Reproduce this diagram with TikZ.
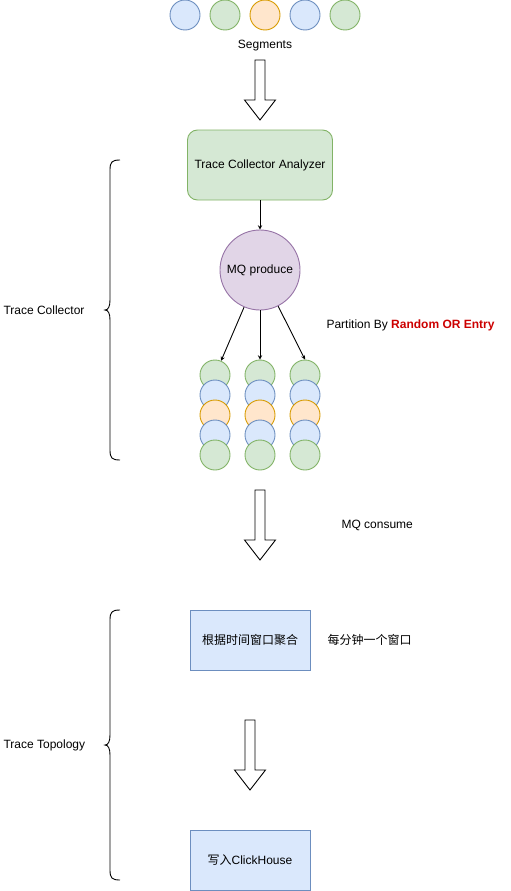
\documentclass[tikz,border=0pt]{standalone}
\usepackage{fontspec}
\setmainfont{Liberation Sans}
\newfontfamily\cjk{Noto Sans CJK SC}
\usetikzlibrary{calc}

\definecolor{blueFill}{HTML}{DAE8FC}
\definecolor{blueLine}{HTML}{6C8EBF}
\definecolor{greenFill}{HTML}{D5E8D4}
\definecolor{greenLine}{HTML}{82B366}
\definecolor{orangeFill}{HTML}{FFE6CC}
\definecolor{orangeLine}{HTML}{D79B00}
\definecolor{purpleFill}{HTML}{E1D5E7}
\definecolor{purpleLine}{HTML}{9673A6}
\definecolor{partRed}{HTML}{CC0000}

\newcommand{\fatarrow}[3]{%
\draw [line width=0.9pt, fill=white] (#1-5,#2) -- (#1+5,#2) -- (#1+5,#3-20) -- (#1+15.5,#3-20)
 -- (#1,#3) -- (#1-15.5,#3-20) -- (#1-5,#3-20) -- cycle;}
\newcommand{\curlybrace}[2]{%
\pgfmathsetmacro{\bmid}{(#1+#2)/2}
\draw [line width=0.9pt] (120,#1) .. controls (112,#1) and (110,#1+2) .. (110,#1+10) -- (110,\bmid-10)
 .. controls (110,\bmid-3) and (108,\bmid) .. (105,\bmid) .. controls (108,\bmid) and (110,\bmid+3) .. (110,\bmid+10)
 -- (110,#2-10) .. controls (110,#2-2) and (112,#2) .. (120,#2);}

\begin{document}
\begin{tikzpicture}[x=1pt, y=-1pt, font=\fontsize{12}{14}\selectfont,
  seg/.style={circle, minimum size=30pt, inner sep=0pt, line width=0.9pt},
  segB/.style={fill=blueFill, draw=blueLine},
  segG/.style={fill=greenFill, draw=greenLine},
  segO/.style={fill=orangeFill, draw=orangeLine},
  box/.style={draw=blueLine, fill=blueFill, line width=0.9pt, minimum width=120pt, minimum height=60pt},
  arr/.style={line width=0.9pt, -stealth}]
\useasboundingbox (0,0) rectangle (511,891);

\foreach \c [count=\i] in {segB,segG,segO,segB,segG}
  \node [seg, \c] (s\i) at (145+40*\i,15) {};
\node (segments) at (265,46) {Segments};
\fatarrow{260}{60}{120}

\node [rounded corners=10pt, draw=greenLine, fill=greenFill, line width=0.9pt,
  minimum width=145pt, minimum height=70pt] (analyzer) at (260,165) {Trace Collector Analyzer};
\node [circle, draw=purpleLine, fill=purpleFill, line width=0.9pt, minimum size=80pt,
  inner sep=0pt] (produce) at (260,270) {MQ produce};
\draw [arr] (analyzer) -- (produce);

\foreach \x [count=\k] in {215,260,305}
  \foreach \c [count=\j] in {segG,segB,segO,segB,segG}
    \node [seg, \c] (q\k\j) at (\x,355+20*\j) {};
\draw [arr] (produce) -- (q11);
\draw [arr] (produce) -- (q21);
\draw [arr] (produce) -- (q31.north);
\node [anchor=west] (partition) at (323,325) {Partition By {\color{partRed}\bfseries Random OR Entry}};

\curlybrace{160}{460}
\node [anchor=west] (collector) at (0,310) {Trace Collector};

\fatarrow{260}{490}{560}
\node [anchor=west] (consume) at (338,525) {MQ consume};

\node [box] (window) at (250,640) {\cjk 根据时间窗口聚合};
\node [anchor=west] (minute) at (324,640) {\cjk 每分钟一个窗口};
\fatarrow{250}{720}{790}
\node [box] (write) at (250,860) {{\cjk 写入}ClickHouse};

\curlybrace{610}{880}
\node [anchor=west] (topology) at (0,745) {Trace Topology};
\end{tikzpicture}
\end{document}
